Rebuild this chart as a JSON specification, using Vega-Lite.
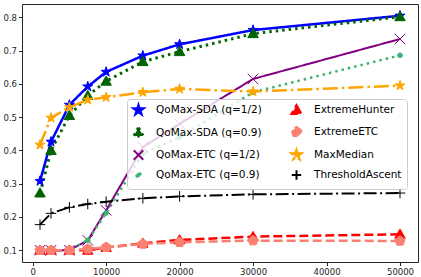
{
  "$schema": "https://vega.github.io/schema/vega-lite/v6.json",
  "width": 396,
  "height": 258,
  "autosize": {"type": "none"},
  "padding": {"left": 22, "top": 4, "right": 3, "bottom": 15},
  "config": {
    "view": {"stroke": "#262626", "strokeWidth": 1},
    "font": "DejaVu Sans",
    "axis": {
      "grid": false,
      "domain": false,
      "tickSize": 3.5,
      "tickColor": "#262626",
      "labelFont": "DejaVu Sans",
      "labelFontSize": 8.5,
      "labelColor": "#262626",
      "labelPadding": 2,
      "title": null
    },
    "legend": {
      "labelFont": "DejaVu Sans",
      "labelFontSize": 10.5,
      "labelColor": "#000000",
      "symbolSize": 90,
      "symbolStrokeWidth": 1,
      "rowPadding": 2,
      "columnPadding": 24,
      "labelOffset": 11,
      "padding": 5
    }
  },
  "datasets": {
    "perf": [
      {"s": "QoMax-SDA (q=1/2)", "x": 1000, "y": 0.308},
      {"s": "QoMax-SDA (q=1/2)", "x": 2500, "y": 0.426},
      {"s": "QoMax-SDA (q=1/2)", "x": 5000, "y": 0.537},
      {"s": "QoMax-SDA (q=1/2)", "x": 7500, "y": 0.592},
      {"s": "QoMax-SDA (q=1/2)", "x": 10000, "y": 0.636},
      {"s": "QoMax-SDA (q=1/2)", "x": 15000, "y": 0.685},
      {"s": "QoMax-SDA (q=1/2)", "x": 20000, "y": 0.719},
      {"s": "QoMax-SDA (q=1/2)", "x": 30000, "y": 0.762},
      {"s": "QoMax-SDA (q=1/2)", "x": 50000, "y": 0.805},
      {"s": "QoMax-SDA (q=0.9)", "x": 1000, "y": 0.272},
      {"s": "QoMax-SDA (q=0.9)", "x": 2500, "y": 0.400},
      {"s": "QoMax-SDA (q=0.9)", "x": 5000, "y": 0.505},
      {"s": "QoMax-SDA (q=0.9)", "x": 7500, "y": 0.565},
      {"s": "QoMax-SDA (q=0.9)", "x": 10000, "y": 0.608},
      {"s": "QoMax-SDA (q=0.9)", "x": 15000, "y": 0.667},
      {"s": "QoMax-SDA (q=0.9)", "x": 20000, "y": 0.697},
      {"s": "QoMax-SDA (q=0.9)", "x": 30000, "y": 0.751},
      {"s": "QoMax-SDA (q=0.9)", "x": 50000, "y": 0.802},
      {"s": "QoMax-ETC (q=1/2)", "x": 1000, "y": 0.100},
      {"s": "QoMax-ETC (q=1/2)", "x": 2500, "y": 0.100},
      {"s": "QoMax-ETC (q=1/2)", "x": 5000, "y": 0.100},
      {"s": "QoMax-ETC (q=1/2)", "x": 7500, "y": 0.130},
      {"s": "QoMax-ETC (q=1/2)", "x": 10000, "y": 0.220},
      {"s": "QoMax-ETC (q=1/2)", "x": 15000, "y": 0.410},
      {"s": "QoMax-ETC (q=1/2)", "x": 20000, "y": 0.480},
      {"s": "QoMax-ETC (q=1/2)", "x": 30000, "y": 0.615},
      {"s": "QoMax-ETC (q=1/2)", "x": 50000, "y": 0.735},
      {"s": "QoMax-ETC (q=0.9)", "x": 1000, "y": 0.100},
      {"s": "QoMax-ETC (q=0.9)", "x": 2500, "y": 0.100},
      {"s": "QoMax-ETC (q=0.9)", "x": 5000, "y": 0.100},
      {"s": "QoMax-ETC (q=0.9)", "x": 7500, "y": 0.130},
      {"s": "QoMax-ETC (q=0.9)", "x": 10000, "y": 0.212},
      {"s": "QoMax-ETC (q=0.9)", "x": 15000, "y": 0.390},
      {"s": "QoMax-ETC (q=0.9)", "x": 20000, "y": 0.440},
      {"s": "QoMax-ETC (q=0.9)", "x": 30000, "y": 0.575},
      {"s": "QoMax-ETC (q=0.9)", "x": 50000, "y": 0.686},
      {"s": "ExtremeHunter", "x": 1000, "y": 0.100},
      {"s": "ExtremeHunter", "x": 2500, "y": 0.100},
      {"s": "ExtremeHunter", "x": 5000, "y": 0.100},
      {"s": "ExtremeHunter", "x": 7500, "y": 0.100},
      {"s": "ExtremeHunter", "x": 10000, "y": 0.108},
      {"s": "ExtremeHunter", "x": 15000, "y": 0.121},
      {"s": "ExtremeHunter", "x": 20000, "y": 0.131},
      {"s": "ExtremeHunter", "x": 30000, "y": 0.141},
      {"s": "ExtremeHunter", "x": 50000, "y": 0.148},
      {"s": "ExtremeETC", "x": 1000, "y": 0.100},
      {"s": "ExtremeETC", "x": 2500, "y": 0.100},
      {"s": "ExtremeETC", "x": 5000, "y": 0.100},
      {"s": "ExtremeETC", "x": 7500, "y": 0.104},
      {"s": "ExtremeETC", "x": 10000, "y": 0.109},
      {"s": "ExtremeETC", "x": 15000, "y": 0.119},
      {"s": "ExtremeETC", "x": 20000, "y": 0.124},
      {"s": "ExtremeETC", "x": 30000, "y": 0.129},
      {"s": "ExtremeETC", "x": 50000, "y": 0.128},
      {"s": "MaxMedian", "x": 1000, "y": 0.417},
      {"s": "MaxMedian", "x": 2500, "y": 0.498},
      {"s": "MaxMedian", "x": 5000, "y": 0.530},
      {"s": "MaxMedian", "x": 7500, "y": 0.552},
      {"s": "MaxMedian", "x": 10000, "y": 0.560},
      {"s": "MaxMedian", "x": 15000, "y": 0.575},
      {"s": "MaxMedian", "x": 20000, "y": 0.585},
      {"s": "MaxMedian", "x": 30000, "y": 0.577},
      {"s": "MaxMedian", "x": 50000, "y": 0.595},
      {"s": "ThresholdAscent", "x": 1000, "y": 0.177},
      {"s": "ThresholdAscent", "x": 2500, "y": 0.211},
      {"s": "ThresholdAscent", "x": 5000, "y": 0.229},
      {"s": "ThresholdAscent", "x": 7500, "y": 0.239},
      {"s": "ThresholdAscent", "x": 10000, "y": 0.246},
      {"s": "ThresholdAscent", "x": 15000, "y": 0.256},
      {"s": "ThresholdAscent", "x": 20000, "y": 0.262},
      {"s": "ThresholdAscent", "x": 30000, "y": 0.268},
      {"s": "ThresholdAscent", "x": 50000, "y": 0.272}
    ]
  },
  "data": {"name": "perf"},
  "encoding": {
    "x": {
      "field": "x",
      "type": "quantitative",
      "scale": {"domain": [-1450, 52450], "nice": false, "zero": false},
      "axis": {"values": [0, 10000, 20000, 30000, 40000, 50000], "format": "d"}
    },
    "y": {
      "field": "y",
      "type": "quantitative",
      "scale": {"domain": [0.0647, 0.8403], "nice": false, "zero": false},
      "axis": {"values": [0.1, 0.2, 0.3, 0.4, 0.5, 0.6, 0.7, 0.8], "format": ".1f"}
    },
    "color": {
      "field": "s",
      "type": "nominal",
      "scale": {
        "domain": ["QoMax-SDA (q=1/2)", "QoMax-SDA (q=0.9)", "QoMax-ETC (q=1/2)", "QoMax-ETC (q=0.9)", "ExtremeHunter", "ExtremeETC", "MaxMedian", "ThresholdAscent"],
        "range": ["#0000ff", "#006400", "#800080", "#3cb371", "#ff0000", "#fa8072", "#ffa500", "#000000"]
      },
      "legend": {
        "title": null,
        "orient": "none",
        "legendX": 105,
        "legendY": 95,
        "columns": 2,
        "fillColor": "rgba(255,255,255,0.8)",
        "strokeColor": "#cccccc",
        "cornerRadius": 3
      }
    }
  },
  "layer": [
    {
      "mark": {"type": "line"},
      "encoding": {
        "strokeDash": {
          "field": "s",
          "type": "nominal",
          "scale": {
            "domain": ["QoMax-SDA (q=1/2)", "QoMax-SDA (q=0.9)", "QoMax-ETC (q=1/2)", "QoMax-ETC (q=0.9)", "ExtremeHunter", "ExtremeETC", "MaxMedian", "ThresholdAscent"],
            "range": [[1, 0], [2.5, 4], [1, 0], [2.5, 4], [9, 4], [9, 4], [15, 4, 2.5, 4], [13, 3.5, 2, 3.5]]
          },
          "legend": null
        },
        "strokeWidth": {
          "field": "s",
          "type": "nominal",
          "scale": {
            "type": "ordinal",
            "domain": ["QoMax-SDA (q=1/2)", "QoMax-SDA (q=0.9)", "QoMax-ETC (q=1/2)", "QoMax-ETC (q=0.9)", "ExtremeHunter", "ExtremeETC", "MaxMedian", "ThresholdAscent"],
            "range": [2.5, 3, 2, 2.5, 2.5, 2.5, 2.5, 2]
          },
          "legend": null
        }
      }
    },
    {
      "mark": {"type": "point", "filled": true, "opacity": 1, "strokeWidth": 1, "size": 110},
      "encoding": {
        "shape": {
          "field": "s",
          "type": "nominal",
          "scale": {
            "domain": ["QoMax-SDA (q=1/2)", "QoMax-SDA (q=0.9)", "QoMax-ETC (q=1/2)", "QoMax-ETC (q=0.9)", "ExtremeHunter", "ExtremeETC", "MaxMedian", "ThresholdAscent"],
            "range": [
              "M0,-1L0.2245,-0.309L0.951,-0.309L0.363,0.118L0.588,0.809L0,0.382L-0.588,0.809L-0.363,0.118L-0.951,-0.309L-0.2245,-0.309Z",
              "M0,-1L1,0.75L-1,0.75Z",
              "M-1,-1L1,1M-1,1L1,-1",
              "M-0.45,0A0.45,0.45,0,1,0,0.45,0A0.45,0.45,0,1,0,-0.45,0Z",
              "M0,-1L1,0.75L-1,0.75Z",
              "M0,-1L0.951,-0.309L0.588,0.809L-0.588,0.809L-0.951,-0.309Z",
              "M0,-1L0.2245,-0.309L0.951,-0.309L0.363,0.118L0.588,0.809L0,0.382L-0.588,0.809L-0.363,0.118L-0.951,-0.309L-0.2245,-0.309Z",
              "M-1,0L1,0M0,-1L0,1"
            ]
          }
        },
        "stroke": {
          "field": "s",
          "type": "nominal",
          "scale": {
            "domain": ["QoMax-SDA (q=1/2)", "QoMax-SDA (q=0.9)", "QoMax-ETC (q=1/2)", "QoMax-ETC (q=0.9)", "ExtremeHunter", "ExtremeETC", "MaxMedian", "ThresholdAscent"],
            "range": ["#0000ff", "#006400", "#800080", "#3cb371", "#ff0000", "#fa8072", "#ffa500", "#000000"]
          }
        }
      }
    }
  ]
}
